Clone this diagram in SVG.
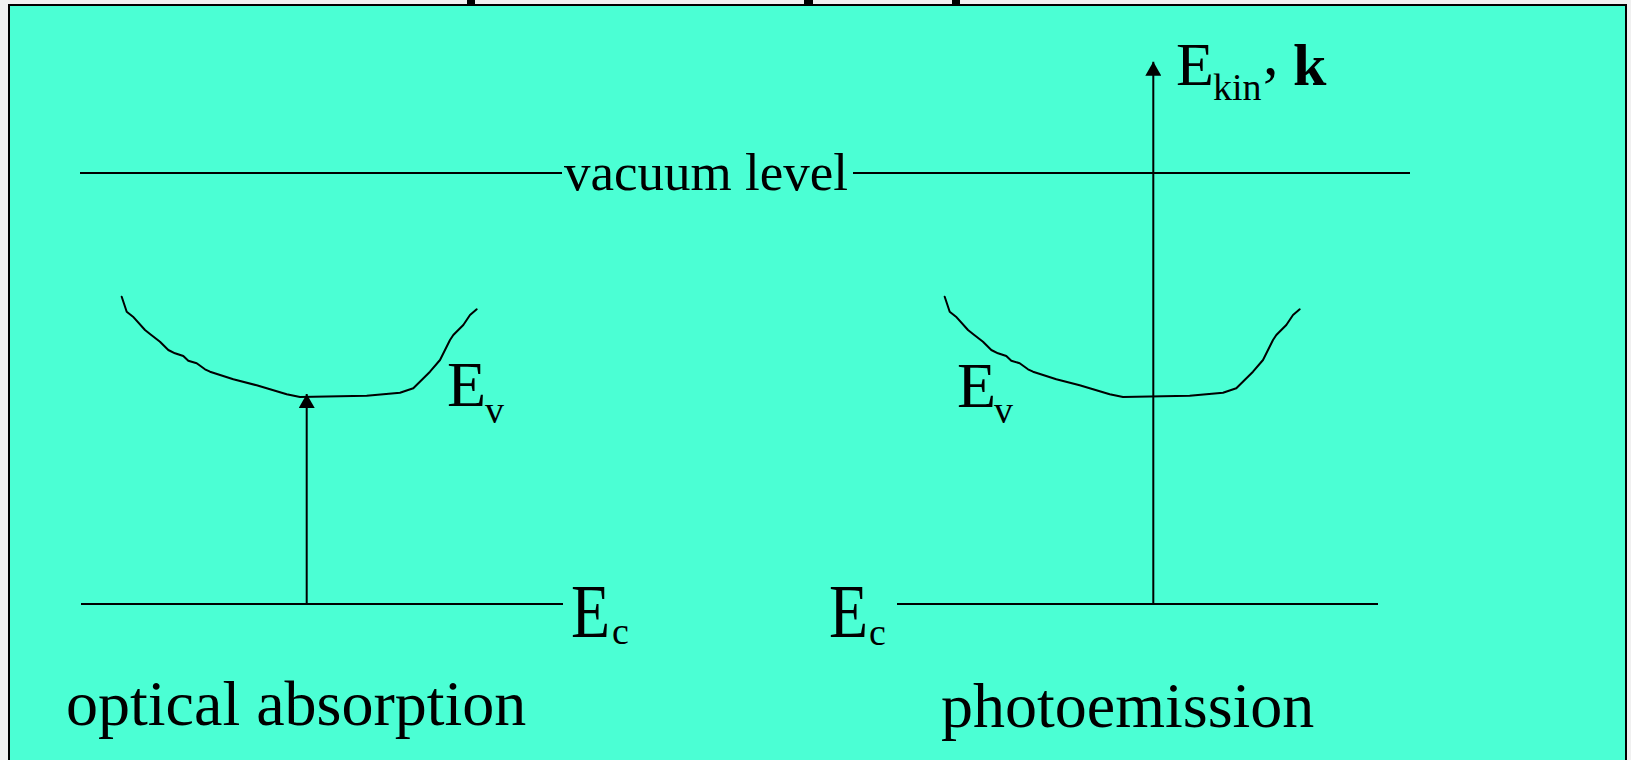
<svg xmlns="http://www.w3.org/2000/svg" width="1631" height="760" viewBox="0 0 1631 760">
  <style>
    .ln { stroke: #000; stroke-width: 2; fill: none; }
    .cv { stroke: #000; stroke-width: 2; fill: none; stroke-linejoin: round; stroke-linecap: round; }
    .t { font-family: "Liberation Serif", "Times New Roman", serif; fill: #000; }
    .big { font-size: 64px; }
    .sub { font-size: 38px; }
  </style>
  <defs>
    <marker id="ah" markerUnits="userSpaceOnUse" viewBox="0 0 14 16" refX="14" refY="8" markerWidth="14" markerHeight="16" orient="auto">
      <path d="M0,0 L14,8 L0,16 z" fill="#000"/>
    </marker>
    <path id="band" class="cv" d="M121.7,296.7 L126.7,311.7 L133,316.7 L145,330 L150,334 L160,341.7 L168.3,350 L175,353.3 L183.3,356 L188.3,360.7 L196.7,363.3 L205,369.3 L210,371.7 L233.3,379.3 L256.7,385.3 L266.7,388.3 L286.7,394.3 L300,397 L366.7,395.7 L400,392.7 L413.3,388.3 L430,371.7 L440,360 L450,340 L453.3,335 L463.3,325 L470,315 L476.7,309.3"/>
  </defs>

  <rect x="0" y="0" width="1631" height="760" fill="#f0f0f0"/>
  <g id="title-fragments" fill="#000">
    <rect x="467" y="0" width="8" height="5"/>
    <rect x="804" y="0" width="9" height="5"/>
    <rect x="952" y="0" width="8" height="5"/>
  </g>
  <rect id="frame" x="9" y="5" width="1617" height="800" fill="#4bffd4" stroke="#000" stroke-width="2"/>

  <g id="connectors">
    <line class="ln" x1="80" y1="173" x2="562" y2="173"/>
    <line class="ln" x1="853" y1="173" x2="1410" y2="173"/>
    <line class="ln" x1="81" y1="604" x2="563" y2="604"/>
    <line class="ln" x1="897" y1="604" x2="1378" y2="604"/>
    <line class="ln" x1="306.7" y1="604" x2="306.7" y2="394" marker-end="url(#ah)"/>
    <line class="ln" x1="1153.3" y1="604" x2="1153.3" y2="61.7" marker-end="url(#ah)"/>
  </g>

  <g id="vacuum-level">
    <text class="t" x="564" y="190" font-size="53">vacuum level</text>
  </g>

  <g id="left-band">
    <use href="#band"/>
    <text class="t big" x="447" y="406">E</text>
    <text class="t sub" x="485" y="423">v</text>
  </g>

  <g id="left-ec">
    <text class="t big" transform="translate(571,637) scale(1,1.18)">E</text>
    <text class="t sub" x="612" y="644">c</text>
  </g>

  <g id="right-band">
    <use href="#band" transform="translate(823,0)"/>
    <text class="t big" x="957" y="407">E</text>
    <text class="t sub" x="994" y="423">v</text>
  </g>

  <g id="right-ec">
    <text class="t big" transform="translate(829,637) scale(1,1.18)">E</text>
    <text class="t sub" x="869" y="645">c</text>
  </g>

  <g id="axis-label">
    <text class="t" x="1176" y="85" font-size="62">E</text>
    <text class="t sub" x="1213" y="100">kin</text>
    <text class="t" x="1263" y="74" font-size="62">,</text>
    <text class="t" x="1293" y="85" font-size="60" font-weight="bold">k</text>
  </g>

  <g id="captions">
    <text class="t big" x="66" y="725">optical absorption</text>
    <text class="t big" x="941" y="727">photoemission</text>
  </g>
</svg>
